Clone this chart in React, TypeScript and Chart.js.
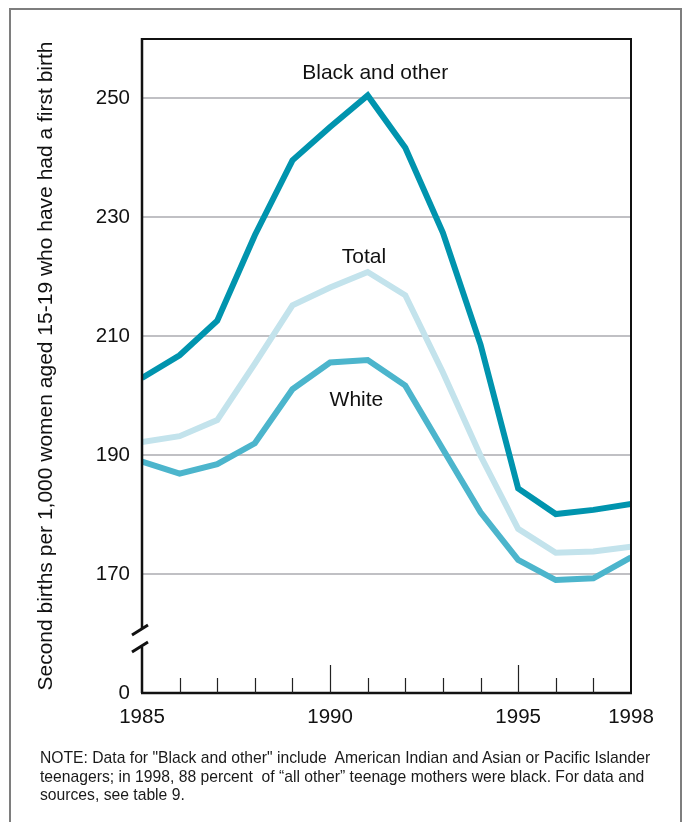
import React, { useEffect, useRef } from "react";
import { Chart, registerables } from "chart.js";

Chart.register(...registerables);

const YEARS = [1985, 1986, 1987, 1988, 1989, 1990, 1991, 1992, 1993, 1994, 1995, 1996, 1997, 1998];
const BLACK_OTHER = [203.0, 206.8, 212.6, 227.0, 239.6, 245.2, 250.5, 241.7, 227.4, 208.6, 184.4, 180.1, 180.8, 181.8];
const TOTAL = [192.2, 193.2, 195.9, 205.4, 215.2, 218.2, 220.8, 216.9, 203.9, 189.9, 177.6, 173.6, 173.8, 174.6];
const WHITE = [188.9, 186.9, 188.5, 192.0, 201.1, 205.6, 206.0, 201.7, 191.0, 180.4, 172.4, 169.0, 169.3, 172.8];

const Y_TICKS = [150, 170, 190, 210, 230, 250];
const Y_TICK_LABELS: Record<number, string> = { 150: "0", 170: "170", 190: "190", 210: "210", 230: "230", 250: "250" };
const X_TICKS = [1985, 1990, 1995, 1998];
const LONG_TICK_YEARS = [1990, 1995];

const SERIES_NAMES = ["Black and other", "Total", "White"];
const SERIES_COLORS = ["#0094AE", "#C3E3EC", "#4CB5CC"];
// label anchors in data units [year, value]
const LABEL_ANCHORS: [number, number][] = [
  [1991.2, 254.3],
  [1990.9, 223.3],
  [1990.7, 199.2],
];

const Y_TITLE = "Second births per 1,000 women aged 15-19 who have had a first birth";
const NOTE_LINES = [
  'NOTE: Data for "Black and other" include  American Indian and Asian or Pacific Islander',
  "teenagers; in 1998, 88 percent  of \u201call other\u201d teenage mothers were black. For data and",
  "sources, see table 9.",
];

const FONT = "'Liberation Sans', Arial, Helvetica, sans-serif";

const framePlugin = {
  id: "framePlugin",
  afterDatasetsDraw(chart: any) {
    const { ctx, chartArea, scales } = chart;
    const { left, right, top, bottom } = chartArea;
    const xs = scales.x;
    ctx.save();
    ctx.strokeStyle = "#111";
    ctx.lineCap = "butt";
    // top & right
    ctx.lineWidth = 2;
    ctx.beginPath();
    ctx.moveTo(left, top);
    ctx.lineTo(right, top);
    ctx.lineTo(right, bottom);
    ctx.stroke();
    // bottom axis
    ctx.lineWidth = 2.5;
    ctx.beginPath();
    ctx.moveTo(left - 1, bottom);
    ctx.lineTo(right + 1, bottom);
    ctx.stroke();
    // left axis with break
    ctx.lineWidth = 2.5;
    ctx.beginPath();
    ctx.moveTo(left, top - 1);
    ctx.lineTo(left, bottom - 65);
    ctx.moveTo(left, bottom - 46);
    ctx.lineTo(left, bottom);
    ctx.stroke();
    ctx.lineWidth = 3;
    ctx.beginPath();
    ctx.moveTo(left - 10, bottom - 58);
    ctx.lineTo(left + 6, bottom - 68);
    ctx.moveTo(left - 10, bottom - 41);
    ctx.lineTo(left + 6, bottom - 51);
    ctx.stroke();
    // year ticks
    ctx.lineWidth = 1.2;
    ctx.strokeStyle = "#222";
    ctx.beginPath();
    YEARS.forEach((yr) => {
      if (yr === YEARS[0] || yr === YEARS[YEARS.length - 1]) return;
      const px = Math.round(xs.getPixelForValue(yr)) + 0.5;
      const len = LONG_TICK_YEARS.includes(yr) ? 28 : 15;
      ctx.moveTo(px, bottom);
      ctx.lineTo(px, bottom - len);
    });
    ctx.stroke();
    // series labels
    ctx.fillStyle = "#111";
    ctx.font = `21px ${FONT}`;
    ctx.textAlign = "center";
    ctx.textBaseline = "middle";
    SERIES_NAMES.forEach((name, i) => {
      const [yr, v] = LABEL_ANCHORS[i];
      ctx.fillText(name, xs.getPixelForValue(yr), scales.y.getPixelForValue(v));
    });
    ctx.restore();
  },
};

export default function App() {
  const canvasRef = useRef<HTMLCanvasElement | null>(null);

  useEffect(() => {
    if (!canvasRef.current) return;
    const seriesData = [BLACK_OTHER, TOTAL, WHITE];
    const order = [1, 2, 0];
    const chart = new Chart(canvasRef.current, {
      type: "line",
      data: {
        datasets: order.map((i) => ({
          label: SERIES_NAMES[i],
          data: YEARS.map((yr, j) => ({ x: yr, y: seriesData[i][j] })),
          borderColor: SERIES_COLORS[i],
          backgroundColor: SERIES_COLORS[i],
          borderWidth: 6,
          pointRadius: 0,
          tension: 0,
          fill: false,
          clip: 0,
          borderJoinStyle: "miter" as const,
        })),
      },
      options: {
        animation: false,
        responsive: false,
        maintainAspectRatio: false,
        events: [],
        layout: { padding: { left: 10, right: 57, top: 39, bottom: 0 } },
        plugins: {
          legend: { display: false },
          tooltip: { enabled: false },
          title: { display: false },
        },
        scales: {
          x: {
            type: "linear",
            min: 1985,
            max: 1998,
            afterBuildTicks: (scale: any) => {
              scale.ticks = X_TICKS.map((v) => ({ value: v }));
            },
            afterFit: (scale: any) => {
              scale.height = 67;
            },
            grid: { display: false, drawTicks: false },
            border: { display: false },
            ticks: {
              padding: 12,
              color: "#111",
              font: { family: FONT, size: 20.5 },
              maxRotation: 0,
              autoSkip: false,
              callback: (v: any) => String(v),
            },
          },
          y: {
            type: "linear",
            min: 150,
            max: 260,
            afterBuildTicks: (scale: any) => {
              scale.ticks = Y_TICKS.map((v) => ({ value: v }));
            },
            afterFit: (scale: any) => {
              scale.width = 132;
            },
            grid: {
              drawTicks: false,
              lineWidth: 2,
              color: (ctx: any) => (ctx.tick && ctx.tick.value === 150 ? "rgba(0,0,0,0)" : "#C0C0C4"),
            },
            border: { display: false },
            title: {
              display: true,
              text: Y_TITLE,
              color: "#111",
              font: { family: FONT, size: 21, lineHeight: 1.2 },
              padding: { top: 24, bottom: 0 },
            },
            ticks: {
              padding: 12,
              color: "#111",
              font: { family: FONT, size: 20.5 },
              autoSkip: false,
              callback: (v: any) => Y_TICK_LABELS[v as number] ?? "",
            },
          },
        },
      },
      plugins: [framePlugin],
    });
    return () => chart.destroy();
  }, []);

  return (
    <div style={{ position: "absolute", left: 0, top: 0, width: 688, height: 822, background: "#fff", overflow: "hidden" }}>
      <div
        style={{
          position: "absolute",
          left: 9,
          top: 8,
          width: 669,
          height: 900,
          borderLeft: "2px solid #7E7E7E",
          borderTop: "2px solid #7E7E7E",
          borderRight: "2px solid #7E7E7E",
        }}
      />
      <canvas ref={canvasRef} width={688} height={760} style={{ position: "absolute", left: 0, top: 0, width: 688, height: 760 }} />
      <div
        style={{
          position: "absolute",
          left: 40,
          top: 749,
          fontFamily: FONT,
          fontSize: 15.7,
          lineHeight: "18.5px",
          color: "#1a1a1a",
          whiteSpace: "pre",
        }}
      >
        {NOTE_LINES.map((l, i) => (
          <div key={i}>{l}</div>
        ))}
      </div>
    </div>
  );
}
